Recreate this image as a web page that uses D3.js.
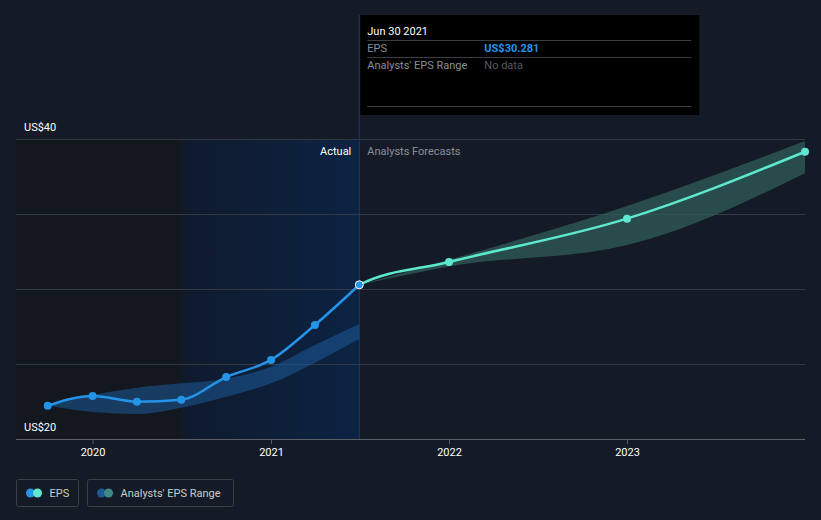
<!DOCTYPE html>
<html>
<head>
<meta charset="utf-8">
<script src="https://cdn.jsdelivr.net/npm/d3@7"></script>
<style>
  html, body { margin: 0; padding: 0; background: #151b26; }
  svg { display: block; font-family: Roboto, "Noto Sans", sans-serif; }
</style>
</head>
<body>
<svg id="chart" width="821" height="520"></svg>
<script>
// ── Data ───────────────────────────────────────────────
const actualDates = ['2019-09-30', '2019-12-31', '2020-03-31', '2020-06-30', '2020-09-30', '2020-12-31', '2021-03-31', '2021-06-30'];
const actualEps = [22.22, 22.87, 22.49, 22.62, 24.13, 25.27, 27.6, 30.281];

const forecastDates = ['2021-06-30', '2021-12-31', '2022-12-31', '2023-12-31'];
const forecastEps = [30.281, 31.8, 34.69, 39.15];
const forecastLow = [30.281, 31.5, 32.93, 37.71];
const forecastHigh = [30.281, 31.95, 35.53, 39.87];

const pastRangeDates = ['2019-09-30', '2019-12-31', '2020-03-31', '2020-06-30', '2020-09-30', '2020-12-31', '2021-03-31', '2021-06-30'];
const pastRangeLow = [22.22, 21.8, 21.67, 22.09, 22.82, 23.71, 25.09, 26.69];
const pastRangeHigh = [22.22, 22.93, 23.42, 23.71, 24.02, 24.82, 26.27, 27.67];

const yTicks = [20, 25, 30, 35, 40];
const yLabels = { 20: 'US$20', 40: 'US$40' };
const xTicks = ['2020-01-01', '2021-01-01', '2022-01-01', '2023-01-01'];

const parse = d3.timeParse('%Y-%m-%d');

// ── Scales ─────────────────────────────────────────────
const svg = d3.select('#chart');
const plotLeft = 16, plotRight = 805, plotTop = 139, plotBottom = 439;

const x = d3.scaleTime()
  .domain([parse('2019-07-27'), parse('2023-12-31')])
  .range([plotLeft, plotRight]);

const y = d3.scaleLinear().domain([20, 40]).range([plotBottom, plotTop]);

const pastStart = parse('2020-06-30');
const nowDate = parse('2021-06-30');

// ── Background regions ─────────────────────────────────
const defs = svg.append('defs');
const grad = defs.append('linearGradient').attr('id', 'pastGrad')
  .attr('x1', 0).attr('x2', 1).attr('y1', 0).attr('y2', 0);
grad.append('stop').attr('offset', '0%').attr('stop-color', '#0f1a2c');
grad.append('stop').attr('offset', '100%').attr('stop-color', '#0c2343');

// clip for the forecast side (line is drawn with the actual history so the join is smooth)
defs.append('clipPath').attr('id', 'futClip')
  .append('rect')
  .attr('x', x(nowDate)).attr('y', 0)
  .attr('width', 821 - x(nowDate)).attr('height', 520);

svg.append('rect')
  .attr('x', plotLeft).attr('y', plotTop)
  .attr('width', x(pastStart) - plotLeft).attr('height', plotBottom - plotTop)
  .attr('fill', '#13171e');

svg.append('rect')
  .attr('x', x(pastStart)).attr('y', plotTop)
  .attr('width', x(nowDate) - x(pastStart)).attr('height', plotBottom - plotTop)
  .attr('fill', 'url(#pastGrad)');

// ── Grid ───────────────────────────────────────────────
svg.append('g').selectAll('line')
  .data(yTicks)
  .join('line')
  .attr('x1', plotLeft).attr('x2', plotRight)
  .attr('y1', d => y(d) + 0.5).attr('y2', d => y(d) + 0.5)
  .attr('stroke', d => d === 20 ? '#5a5f68' : '#343a45')
  .attr('stroke-width', 1);

svg.append('g').selectAll('text')
  .data(yTicks.filter(d => yLabels[d]))
  .join('text')
  .attr('x', 24).attr('y', d => y(d) - 8)
  .attr('fill', '#ffffff').attr('font-size', 11)
  .text(d => yLabels[d]);

// now line
svg.append('line')
  .attr('x1', x(nowDate)).attr('x2', x(nowDate))
  .attr('y1', 15).attr('y2', plotBottom)
  .attr('stroke', '#1b3a66').attr('stroke-width', 1);

// x axis ticks
const xg = svg.append('g');
xg.selectAll('line')
  .data(xTicks)
  .join('line')
  .attr('x1', d => x(parse(d))).attr('x2', d => x(parse(d)))
  .attr('y1', plotBottom).attr('y2', plotBottom + 5)
  .attr('stroke', '#5a5f68');
xg.selectAll('text')
  .data(xTicks)
  .join('text')
  .attr('x', d => x(parse(d))).attr('y', plotBottom + 17)
  .attr('text-anchor', 'middle')
  .attr('fill', '#ffffff').attr('font-size', 11)
  .text(d => d.slice(0, 4));

// section labels
svg.append('text')
  .attr('x', x(nowDate) - 8).attr('y', plotTop + 16)
  .attr('text-anchor', 'end').attr('fill', '#ffffff').attr('font-size', 11)
  .text('Actual');
svg.append('text')
  .attr('x', x(nowDate) + 8).attr('y', plotTop + 16)
  .attr('fill', '#8b8f96').attr('font-size', 11)
  .text('Analysts Forecasts');

// ── Ranges ─────────────────────────────────────────────
const area = d3.area()
  .x(d => x(d.date)).y0(d => y(d.lo)).y1(d => y(d.hi))
  .curve(d3.curveMonotoneX);

const pastRange = pastRangeDates.map((d, i) => ({ date: parse(d), lo: pastRangeLow[i], hi: pastRangeHigh[i] }));
const futRange = forecastDates.map((d, i) => ({ date: parse(d), lo: forecastLow[i], hi: forecastHigh[i] }));

svg.append('path').datum(pastRange)
  .attr('d', area).attr('fill', '#1e5a99').attr('opacity', 0.55);
svg.append('path').datum(futRange)
  .attr('d', area).attr('fill', '#2f5e5a').attr('opacity', 0.75);

// ── Lines ──────────────────────────────────────────────
const line = d3.line()
  .x(d => x(d.date)).y(d => y(d.v))
  .curve(d3.curveMonotoneX);

const actual = actualDates.map((d, i) => ({ date: parse(d), v: actualEps[i] }));
const forecast = forecastDates.map((d, i) => ({ date: parse(d), v: forecastEps[i] }));

svg.append('path').datum(actual.slice(-3, -1).concat(forecast))
  .attr('d', line).attr('fill', 'none')
  .attr('clip-path', 'url(#futClip)')
  .attr('stroke', '#5ee8cf').attr('stroke-width', 2.5);
svg.append('path').datum(actual)
  .attr('d', line).attr('fill', 'none')
  .attr('stroke', '#2394e8').attr('stroke-width', 2.5);

svg.append('g').selectAll('circle')
  .data(forecast.slice(1))
  .join('circle')
  .attr('cx', d => x(d.date)).attr('cy', d => y(d.v)).attr('r', 4)
  .attr('fill', '#5ee8cf');

svg.append('g').selectAll('circle')
  .data(actual)
  .join('circle')
  .attr('cx', d => x(d.date)).attr('cy', d => y(d.v)).attr('r', 4)
  .attr('fill', '#2394e8')
  .attr('stroke', (d, i) => i === actual.length - 1 ? '#ffffff' : 'none')
  .attr('stroke-width', 1);

// ── Tooltip ────────────────────────────────────────────
const tip = svg.append('g').attr('transform', `translate(${x(nowDate) + 1},15)`);
tip.append('rect').attr('width', 339).attr('height', 100).attr('fill', '#000000');
tip.append('text').attr('x', 7).attr('y', 20).attr('fill', '#ffffff').attr('font-size', 11).text('Jun 30 2021');
[25, 42, 91].forEach(ly => {
  tip.append('line').attr('x1', 7).attr('x2', 331).attr('y1', ly + 0.5).attr('y2', ly + 0.5)
    .attr('stroke', '#3a3d42');
});
tip.append('text').attr('x', 7).attr('y', 37).attr('fill', '#8b8f96').attr('font-size', 11).text('EPS');
tip.append('text').attr('x', 124).attr('y', 37).attr('fill', '#2394e8').attr('font-size', 11)
  .attr('font-weight', 'bold').text('US$30.281');
tip.append('text').attr('x', 7).attr('y', 54).attr('fill', '#8b8f96').attr('font-size', 11).text("Analysts' EPS Range");
tip.append('text').attr('x', 124).attr('y', 54).attr('fill', '#55595f').attr('font-size', 11).text('No data');

// ── Legend ─────────────────────────────────────────────
const legendItems = [
  { label: 'EPS', c1: '#2394e8', c2: '#5ee8cf', x: 16, w: 62 },
  { label: "Analysts' EPS Range", c1: '#1e5a99', c2: '#3f8a85', x: 87, w: 146 },
];
const lg = svg.append('g').selectAll('g')
  .data(legendItems)
  .join('g')
  .attr('transform', d => `translate(${d.x + 0.5},479.5)`);
lg.append('rect').attr('width', d => d.w).attr('height', 27).attr('rx', 2)
  .attr('fill', 'none').attr('stroke', '#3a3f48');
lg.append('circle').attr('cx', 14).attr('cy', 13.5).attr('r', 4.5).attr('fill', d => d.c1);
lg.append('circle').attr('cx', 21).attr('cy', 13.5).attr('r', 4.5).attr('fill', d => d.c2);
lg.append('text').attr('x', 33).attr('y', 17.5).attr('fill', '#c8cbd0').attr('font-size', 11)
  .text(d => d.label);
</script>
</body>
</html>
